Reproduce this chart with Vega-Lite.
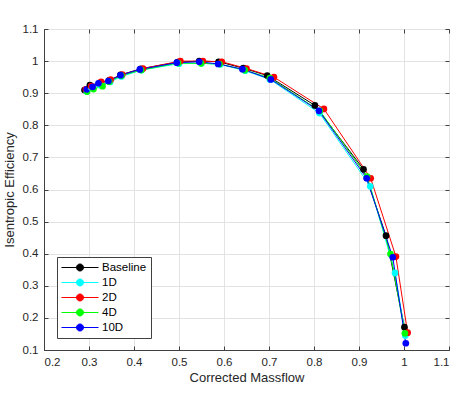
{
  "$schema": "https://vega.github.io/schema/vega-lite/v6.json",
  "width": 405,
  "height": 321,
  "autosize": {"type": "none"},
  "padding": {"left": 44, "top": 29, "right": 11, "bottom": 43},
  "background": "white",
  "config": {
    "font": "Liberation Sans",
    "view": {"stroke": "#404040", "strokeWidth": 1},
    "axis": {
      "domainColor": "#404040",
      "tickColor": "#404040",
      "gridColor": "#e3e3e3",
      "labelColor": "#262626",
      "titleColor": "#262626",
      "labelFontSize": 11.5,
      "titleFontSize": 13,
      "titleFontWeight": "normal",
      "tickSize": -4,
      "labelPadding": 10
    }
  },
  "data": {
    "values": [
      {"s": "Baseline", "i": 1, "x": 0.290, "y": 0.910},
      {"s": "Baseline", "i": 2, "x": 0.302, "y": 0.925},
      {"s": "Baseline", "i": 3, "x": 0.325, "y": 0.932},
      {"s": "Baseline", "i": 4, "x": 0.345, "y": 0.940},
      {"s": "Baseline", "i": 5, "x": 0.370, "y": 0.957},
      {"s": "Baseline", "i": 6, "x": 0.415, "y": 0.976},
      {"s": "Baseline", "i": 7, "x": 0.497, "y": 0.997},
      {"s": "Baseline", "i": 8, "x": 0.545, "y": 1.000},
      {"s": "Baseline", "i": 9, "x": 0.588, "y": 0.998},
      {"s": "Baseline", "i": 10, "x": 0.643, "y": 0.978},
      {"s": "Baseline", "i": 11, "x": 0.696, "y": 0.955},
      {"s": "Baseline", "i": 12, "x": 0.802, "y": 0.862},
      {"s": "Baseline", "i": 13, "x": 0.910, "y": 0.663},
      {"s": "Baseline", "i": 14, "x": 0.960, "y": 0.456},
      {"s": "Baseline", "i": 15, "x": 1.001, "y": 0.171},
      {"s": "1D", "i": 1, "x": 0.295, "y": 0.905},
      {"s": "1D", "i": 2, "x": 0.305, "y": 0.918},
      {"s": "1D", "i": 3, "x": 0.325, "y": 0.925},
      {"s": "1D", "i": 4, "x": 0.347, "y": 0.935},
      {"s": "1D", "i": 5, "x": 0.372, "y": 0.952},
      {"s": "1D", "i": 6, "x": 0.417, "y": 0.972},
      {"s": "1D", "i": 7, "x": 0.500, "y": 0.992},
      {"s": "1D", "i": 8, "x": 0.550, "y": 0.993},
      {"s": "1D", "i": 9, "x": 0.592, "y": 0.990},
      {"s": "1D", "i": 10, "x": 0.647, "y": 0.970},
      {"s": "1D", "i": 11, "x": 0.702, "y": 0.943},
      {"s": "1D", "i": 12, "x": 0.812, "y": 0.838},
      {"s": "1D", "i": 13, "x": 0.925, "y": 0.610},
      {"s": "1D", "i": 14, "x": 0.980, "y": 0.340},
      {"s": "1D", "i": 15, "x": 1.003, "y": 0.145},
      {"s": "2D", "i": 1, "x": 0.293, "y": 0.912},
      {"s": "2D", "i": 2, "x": 0.305, "y": 0.922},
      {"s": "2D", "i": 3, "x": 0.327, "y": 0.935},
      {"s": "2D", "i": 4, "x": 0.348, "y": 0.942},
      {"s": "2D", "i": 5, "x": 0.374, "y": 0.958},
      {"s": "2D", "i": 6, "x": 0.420, "y": 0.977},
      {"s": "2D", "i": 7, "x": 0.503, "y": 1.000},
      {"s": "2D", "i": 8, "x": 0.553, "y": 1.000},
      {"s": "2D", "i": 9, "x": 0.595, "y": 0.998},
      {"s": "2D", "i": 10, "x": 0.650, "y": 0.977},
      {"s": "2D", "i": 11, "x": 0.711, "y": 0.950},
      {"s": "2D", "i": 12, "x": 0.822, "y": 0.851},
      {"s": "2D", "i": 13, "x": 0.926, "y": 0.635},
      {"s": "2D", "i": 14, "x": 0.982, "y": 0.391},
      {"s": "2D", "i": 15, "x": 1.008, "y": 0.154},
      {"s": "4D", "i": 1, "x": 0.296, "y": 0.905},
      {"s": "4D", "i": 2, "x": 0.310, "y": 0.913},
      {"s": "4D", "i": 3, "x": 0.330, "y": 0.922},
      {"s": "4D", "i": 4, "x": 0.345, "y": 0.936},
      {"s": "4D", "i": 5, "x": 0.372, "y": 0.955},
      {"s": "4D", "i": 6, "x": 0.416, "y": 0.972},
      {"s": "4D", "i": 7, "x": 0.498, "y": 0.994},
      {"s": "4D", "i": 8, "x": 0.549, "y": 0.993},
      {"s": "4D", "i": 9, "x": 0.590, "y": 0.991},
      {"s": "4D", "i": 10, "x": 0.646, "y": 0.972},
      {"s": "4D", "i": 11, "x": 0.702, "y": 0.947},
      {"s": "4D", "i": 12, "x": 0.813, "y": 0.845},
      {"s": "4D", "i": 13, "x": 0.918, "y": 0.640},
      {"s": "4D", "i": 14, "x": 0.970, "y": 0.399},
      {"s": "4D", "i": 15, "x": 1.002, "y": 0.152},
      {"s": "10D", "i": 1, "x": 0.295, "y": 0.912},
      {"s": "10D", "i": 2, "x": 0.308, "y": 0.920},
      {"s": "10D", "i": 3, "x": 0.321, "y": 0.931},
      {"s": "10D", "i": 4, "x": 0.343, "y": 0.938},
      {"s": "10D", "i": 5, "x": 0.370, "y": 0.956},
      {"s": "10D", "i": 6, "x": 0.413, "y": 0.974},
      {"s": "10D", "i": 7, "x": 0.495, "y": 0.995},
      {"s": "10D", "i": 8, "x": 0.545, "y": 0.998},
      {"s": "10D", "i": 9, "x": 0.587, "y": 0.991},
      {"s": "10D", "i": 10, "x": 0.641, "y": 0.975},
      {"s": "10D", "i": 11, "x": 0.704, "y": 0.943},
      {"s": "10D", "i": 12, "x": 0.811, "y": 0.845},
      {"s": "10D", "i": 13, "x": 0.917, "y": 0.635},
      {"s": "10D", "i": 14, "x": 0.975, "y": 0.389},
      {"s": "10D", "i": 15, "x": 1.004, "y": 0.121}
    ]
  },
  "encoding": {
    "color": {
      "field": "s", "type": "nominal",
      "scale": {"domain": ["Baseline", "1D", "2D", "4D", "10D"], "range": ["#000000", "#00ffff", "#ff0000", "#00ff00", "#0000ff"]},
      "legend": {
        "title": null,
        "orient": "none",
        "legendX": 13,
        "legendY": 228,
        "fillColor": "white",
        "strokeColor": "#404040",
        "padding": 4,
        "symbolType": "M-1,0H1M0.19,0A0.19,0.19,0,1,1,-0.19,0A0.19,0.19,0,1,1,0.19,0Z",
        "symbolSize": 1369,
        "symbolStrokeWidth": 1,
        "clipHeight": 13,
        "rowPadding": 2,
        "labelFontSize": 11.5,
        "labelColor": "#000000",
        "labelOffset": 3,
        "encode": {"symbols": {"update": {"fill": {"scale": "color", "field": "value"}, "stroke": {"scale": "color", "field": "value"}, "opacity": {"value": 1}}}}
      }
    },
    "order": {"field": "i", "type": "quantitative"}
  },
  "layer": [
    {
      "mark": {"type": "line", "strokeWidth": 1},
      "encoding": {
        "x": {
          "field": "x", "type": "quantitative",
          "scale": {"domain": [0.2, 1.1], "nice": false, "zero": false},
          "axis": {"title": "Corrected Massflow", "values": [0.2,0.3,0.4,0.5,0.6,0.7,0.8,0.9,1.0,1.1], "format": "~g", "titlePadding": 4}
        },
        "y": {
          "field": "y", "type": "quantitative",
          "scale": {"domain": [0.1, 1.1], "nice": false, "zero": false},
          "axis": {"title": "Isentropic Efficiency", "values": [0.1,0.2,0.3,0.4,0.5,0.6,0.7,0.8,0.9,1.0,1.1], "format": "~g", "titlePadding": 6}
        }
      }
    },
    {
      "mark": {"type": "circle", "size": 45, "opacity": 1},
      "encoding": {
        "x": {"field": "x", "type": "quantitative", "axis": null},
        "y": {"field": "y", "type": "quantitative", "axis": null}
      }
    },
    {
      "mark": {"type": "circle", "opacity": 0},
      "encoding": {
        "x": {
          "field": "x", "type": "quantitative",
          "axis": {"orient": "top", "title": null, "labels": false, "grid": false, "domain": false, "values": [0.2,0.3,0.4,0.5,0.6,0.7,0.8,0.9,1.0,1.1]}
        },
        "y": {
          "field": "y", "type": "quantitative",
          "axis": {"orient": "right", "title": null, "labels": false, "grid": false, "domain": false, "values": [0.1,0.2,0.3,0.4,0.5,0.6,0.7,0.8,0.9,1.0,1.1]}
        }
      }
    }
  ],
  "resolve": {"axis": {"x": "independent", "y": "independent"}}
}
